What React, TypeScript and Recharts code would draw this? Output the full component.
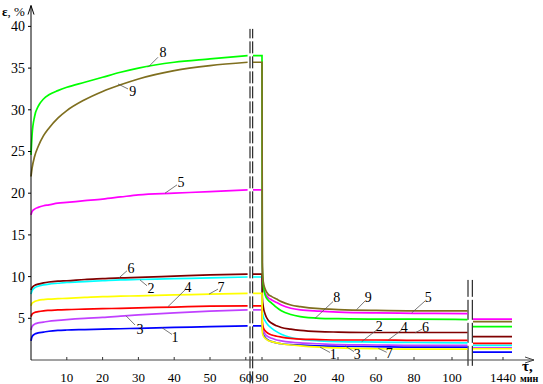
import React from "react";
import { LineChart, Line, XAxis, YAxis, ReferenceLine, ReferenceDot } from "recharts";

const FONT = "'Liberation Serif', 'Times New Roman', serif";

// broken time axis: load 0..60 min | rest from 90 min | 1440 min
const PX_LOAD = 3.58;
const REST_START = 231;
const DROP = 0.3;
const PX_REST = 1.9;
const GAP1 = 219.5;
const RESUME = 222;
const GAP2 = 438.5;
const DAY_FROM = 442;
const DAY_TO = 481;
const DAY_TICK = 472;

const loadTimes = [0, 0.3, 1, 2, 3.5, 5, 7.5, 10, 15, 20, 25, 30, 40, 50, 60.5];
const restTimes = [0, 0.5, 1.5, 3, 5, 7.5, 10, 15, 20, 30, 40, 60, 80, 108];

const load1 = [2.3, 2.8, 3.1, 3.25, 3.35, 3.45, 3.55, 3.6, 3.65, 3.7, 3.75, 3.8, 3.9, 4.0, 4.1];
const load2 = [7.9, 8.3, 8.65, 8.85, 9.0, 9.1, 9.2, 9.3, 9.4, 9.5, 9.6, 9.65, 9.75, 9.85, 9.95];
const load3 = [3.6, 4.0, 4.3, 4.45, 4.55, 4.65, 4.75, 4.85, 5.0, 5.1, 5.25, 5.4, 5.65, 5.85, 6.0];
const load4 = [5.2, 5.5, 5.7, 5.8, 5.9, 5.95, 6.0, 6.05, 6.1, 6.15, 6.2, 6.25, 6.35, 6.45, 6.5];
const load5 = [17.4, 17.8, 18.1, 18.3, 18.5, 18.6, 18.8, 18.9, 19.1, 19.3, 19.55, 19.8, 20.0, 20.2, 20.4];
const load6 = [8.4, 8.7, 8.95, 9.1, 9.25, 9.35, 9.45, 9.5, 9.65, 9.75, 9.85, 9.9, 10.05, 10.2, 10.3];
const load7 = [6.5, 6.8, 7.0, 7.15, 7.25, 7.3, 7.35, 7.4, 7.5, 7.6, 7.65, 7.7, 7.8, 7.9, 8.0];
const load8 = [24.6, 27.0, 29.2, 30.4, 31.3, 31.8, 32.3, 32.7, 33.3, 33.9, 34.5, 35.0, 35.7, 36.1, 36.5];
const load9 = [22.0, 23.0, 24.4, 25.6, 26.9, 27.8, 29.0, 29.9, 31.2, 32.2, 33.0, 33.7, 34.7, 35.3, 35.7];

const rest1 = [3.9, 3.1, 2.7, 2.4, 2.2, 2.05, 1.95, 1.85, 1.8, 1.7, 1.65, 1.6, 1.55, 1.55];
const rest2 = [6.0, 5.2, 4.7, 4.2, 3.8, 3.4, 3.1, 2.7, 2.5, 2.3, 2.2, 2.15, 2.1, 2.05];
const rest3 = [4.3, 3.6, 3.1, 2.8, 2.6, 2.4, 2.3, 2.15, 2.05, 1.95, 1.85, 1.8, 1.75, 1.75];
const rest4 = [4.6, 3.9, 3.5, 3.2, 3.0, 2.85, 2.75, 2.6, 2.5, 2.45, 2.4, 2.4, 2.35, 2.35];
const rest5 = [10.0, 8.6, 8.0, 7.5, 7.2, 6.9, 6.6, 6.2, 6.0, 5.85, 5.75, 5.65, 5.6, 5.55];
const rest6 = [7.5, 6.4, 5.5, 4.8, 4.4, 4.1, 3.9, 3.7, 3.55, 3.4, 3.35, 3.3, 3.3, 3.3];
const rest7 = [3.4, 2.9, 2.6, 2.35, 2.2, 2.05, 1.95, 1.8, 1.7, 1.55, 1.45, 1.35, 1.3, 1.3];
const rest8 = [11.2, 9.0, 7.8, 7.2, 6.8, 6.3, 5.9, 5.45, 5.2, 5.0, 4.95, 4.9, 4.9, 4.85];
const rest9 = [11.7, 9.4, 8.5, 7.9, 7.6, 7.3, 7.0, 6.6, 6.4, 6.15, 6.05, 5.95, 5.9, 5.9];

// values at 1440 min, curves 1..9
const day1440 = [0.95, 1.75, 1.45, 2.0, 4.9, 2.8, 1.35, 4.0, 4.6];

const curveNames = ["1", "2", "3", "4", "5", "6", "7", "8", "9"];
const curveColors = ["#0000ff", "#00ffff", "#c040ff", "#ff0000", "#ff00ff", "#800000", "#ffff00", "#00ff00", "#7f6f1f"];
const loads = [load1, load2, load3, load4, load5, load6, load7, load8, load9];
const rests = [rest1, rest2, rest3, rest4, rest5, rest6, rest7, rest8, rest9];

const loadTicks = [10, 20, 30, 40, 50, 60];
const restTicks = [0, 20, 40, 60, 80, 100];
const restTickLabels = ["90", "20", "40", "60", "80", "100"];
const yTicks = [5, 10, 15, 20, 25, 30, 35, 40];

const row = (u: number, pick: (k: number) => number | null) => {
  const r: any = { u };
  curveNames.forEach((n, k) => (r["c" + n] = pick(k)));
  return r;
};

const lastLoad = loadTimes.length - 1;
const data: any[] = [
  ...loadTimes.map((t, i) => row(t * PX_LOAD, (k) => loads[k][i])),
  row(GAP1, () => null),
  row(RESUME, (k) => loads[k][lastLoad]),
  row(REST_START, (k) => loads[k][lastLoad]),
  ...restTimes.map((s, j) => row(REST_START + DROP + s * PX_REST, (k) => rests[k][j])),
  row(GAP2, () => null),
  row(DAY_FROM, (k) => day1440[k]),
  row(DAY_TO, (k) => day1440[k]),
];

const tickPos = [
  ...loadTicks.map((t) => t * PX_LOAD),
  ...restTicks.map((s) => REST_START + s * PX_REST),
  DAY_TICK,
];
const tickText = [...loadTicks.map(String), ...restTickLabels, "1440"];

// curve number tags: leader from a -> b, text at c (axis units)
const tags = [
  { n: "8", a: [117, 35.1], b: [127, 36.3], c: [132, 36.9] },
  { n: "9", a: [87, 33.1], b: [97, 32.5], c: [101.7, 32.2] },
  { n: "5", a: [134, 20.0], b: [146, 21.0], c: [150, 21.3] },
  { n: "6", a: [88, 9.85], b: [96, 10.7], c: [100, 11.0] },
  { n: "2", a: [109, 9.6], b: [116, 8.9], c: [120, 8.6] },
  { n: "4", a: [137, 6.4], b: [154, 8.4], c: [157, 8.75] },
  { n: "7", a: [178, 7.9], b: [187, 8.5], c: [190, 8.75] },
  { n: "3", a: [95, 5.3], b: [104, 4.2], c: [109, 3.7] },
  { n: "1", a: [131, 3.87], b: [141, 3.06], c: [144, 2.75] },
  { n: "8", a: [284, 5.0], b: [302, 7.0], c: [305.7, 7.47] },
  { n: "9", a: [325.7, 6.05], b: [334, 7.07], c: [337.3, 7.52] },
  { n: "5", a: [380.7, 5.65], b: [394, 7.07], c: [397.3, 7.52] },
  { n: "2", a: [330.7, 2.2], b: [345.7, 3.6], c: [348.3, 3.96] },
  { n: "4", a: [357.3, 2.4], b: [370.7, 3.6], c: [373.3, 3.92] },
  { n: "6", a: [384, 3.25], b: [391, 3.7], c: [394.5, 3.92] },
  { n: "1", a: [289, 1.55], b: [299, 0.9], c: [302.3, 0.6] },
  { n: "3", a: [314, 1.7], b: [323, 1.0], c: [326.3, 0.6] },
  { n: "7", a: [347.3, 1.4], b: [355.7, 0.92], c: [358.3, 0.72] },
];

const breaks = [
  { u: 219, lo: -2.8, hi: 39.7, dash: "12 3" },
  { u: 221.7, lo: -2.8, hi: 39.7, dash: "12 3" },
  { u: 437, lo: -0.7, hi: 9.6, dash: "20 3" },
  { u: 441.3, lo: -0.7, hi: 9.6, dash: "20 3" },
];

const XTick = (props: any) => {
  const { x, y, payload } = props;
  const idx = tickPos.findIndex((p) => Math.abs(p - payload.value) < 0.01);
  return (
    <g>
      <line x1={x} x2={x} y1={y - 3} y2={y} stroke="#333" />
      <text x={x} y={y + 21.5} textAnchor="middle" fontSize={13} fontFamily={FONT} fill="#000">
        {idx >= 0 ? tickText[idx] : ""}
      </text>
    </g>
  );
};

export default function App() {
  return (
    <div style={{ position: "absolute", left: 0, top: 0, background: "#fff" }}>
      <LineChart width={543} height={384} data={data} margin={{ top: 5.55, right: 9, bottom: 0, left: 0 }}>
        <XAxis
          dataKey="u"
          type="number"
          domain={[0, 503]}
          ticks={tickPos}
          interval={0}
          height={24}
          tickSize={0}
          tickMargin={0}
          tickLine={false}
          tick={<XTick />}
          stroke="#444"
          label={{
            content: (p: any) => {
              const vb = p.viewBox;
              return (
                <g fontFamily={FONT} fill="#000">
                  <text x={vb.x + vb.width - 12} y={vb.y + 11} fontSize={15} fontWeight="bold">τ,</text>
                  <text x={vb.x + vb.width - 14} y={vb.y + 21.5} fontSize={10} fontWeight="bold">мин</text>
                </g>
              );
            },
          }}
        />
        <YAxis
          type="number"
          domain={[0, 42.5]}
          ticks={yTicks}
          interval={0}
          width={31}
          tickSize={3}
          tickMargin={3}
          stroke="#000"
          tick={{ fill: "#000", fontSize: 14, fontFamily: FONT }}
          label={{
            content: (p: any) => {
              const vb = p.viewBox;
              return (
                <text x={vb.x + 2} y={vb.y + 10.5} fontSize={13} fontFamily={FONT} fill="#000">
                  <tspan fontWeight="bold">ε</tspan>, %
                </text>
              );
            },
          }}
        />
        {breaks.map((b, i) => (
          <ReferenceLine
            key={"br" + i}
            segment={[{ x: b.u, y: b.lo }, { x: b.u, y: b.hi }]}
            stroke="#000"
            strokeDasharray={b.dash}
            ifOverflow="visible"
          />
        ))}
        {curveNames.map((n, k) => (
          <Line
            key={n}
            dataKey={"c" + n}
            type="monotone"
            stroke={curveColors[k]}
            strokeWidth={1.7}
            dot={false}
            isAnimationActive={false}
          />
        ))}
        {tags.map((t, i) => (
          <ReferenceLine
            key={"tl" + i}
            segment={[{ x: t.a[0], y: t.a[1] }, { x: t.b[0], y: t.b[1] }]}
            stroke="#555"
            strokeWidth={0.8}
          />
        ))}
        {tags.map((t, i) => (
          <ReferenceDot
            key={"tt" + i}
            x={t.c[0]}
            y={t.c[1]}
            r={1}
            shape={(p: any) => (
              <text x={p.cx} y={p.cy} textAnchor="middle" dominantBaseline="central" fontSize={14} fontFamily={FONT} fill="#000">
                {t.n}
              </text>
            )}
          />
        ))}
        <ReferenceDot
          x={503}
          y={0}
          r={1}
          ifOverflow="visible"
          shape={(p: any) => (
            <path d={`M${p.cx - 9},${p.cy - 3} L${p.cx},${p.cy} L${p.cx - 9},${p.cy + 3}`} stroke="#444" fill="none" />
          )}
        />
        <ReferenceDot
          x={0}
          y={42.5}
          r={1}
          ifOverflow="visible"
          shape={(p: any) => (
            <path d={`M${p.cx - 3},${p.cy + 9} L${p.cx},${p.cy} L${p.cx + 3},${p.cy + 9}`} stroke="#000" fill="none" />
          )}
        />
      </LineChart>
    </div>
  );
}
